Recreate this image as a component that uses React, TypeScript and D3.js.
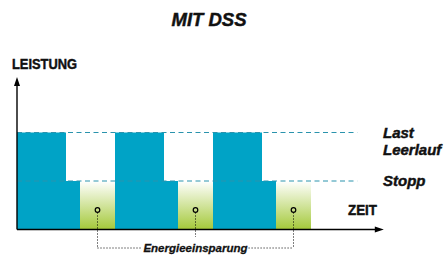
import { useEffect, useRef } from 'react'
import * as d3 from 'd3'

// power levels (0 = aus, 1 = Leerlauf/Stopp line, 2 = Last)
const durations = [7, 2, 5, 7, 2, 5, 7, 2, 5]
const levels = [2, 1, 0, 2, 1, 0, 2, 1, 0]
const savingLevel = 1
const lineLevels = [2, 1]
const lineLabels = [['Last', 'Leerlauf'], ['Stopp']]
const timeMax = 52.4
const lineEnd = 48.6

const W = 448
const H = 257

export default function App() {
  const svgRef = useRef<SVGSVGElement>(null)

  useEffect(() => {
    if (!svgRef.current) return
    const svg = d3.select(svgRef.current)
    svg.selectAll('*').remove()

    const x = d3.scaleLinear().domain([0, 7]).range([17, 66])
    const y = d3.scaleLinear().domain([0, 2]).range([229.5, 132.5])

    const font = "'Liberation Sans', Arial, sans-serif"
    const blue = '#00a3c6'
    const ink = '#111'

    const defs = svg.append('defs')
    const grad = defs.append('linearGradient').attr('id', 'sav').attr('x1', 0).attr('x2', 0).attr('y1', 0).attr('y2', 1)
    grad.append('stop').attr('offset', '0%').attr('stop-color', '#ffffff')
    grad.append('stop').attr('offset', '100%').attr('stop-color', '#a4c93a')

    // segments
    let t = 0
    const segs = durations.map((d, i) => {
      const s = { t0: t, t1: t + d, level: levels[i] }
      t += d
      return s
    })

    const g = svg.append('g')
    segs.forEach(s => {
      const lv = s.level > 0 ? s.level : savingLevel
      g.append('rect')
        .attr('x', x(s.t0)).attr('width', x(s.t1) - x(s.t0))
        .attr('y', y(lv)).attr('height', y(0) - y(lv))
        .attr('fill', s.level > 0 ? blue : 'url(#sav)')
    })

    // dashed level lines
    lineLevels.forEach(l => {
      g.append('line')
        .attr('x1', x(0)).attr('x2', x(lineEnd))
        .attr('y1', y(l)).attr('y2', y(l))
        .attr('stroke', '#2a93ad').attr('stroke-width', 1)
        .attr('stroke-dasharray', '5,3.5')
    })

    const txt = (xx: number, yy: number, s: string, size: number, italic: boolean, len?: number) => {
      const el = g.append('text').attr('x', xx).attr('y', yy)
        .attr('font-family', font).attr('font-weight', 'bold')
        .attr('font-style', italic ? 'italic' : 'normal')
        .attr('font-size', size).attr('fill', ink)
        .attr('stroke', ink).attr('stroke-width', 0.45)
        .text(s)
      if (len) el.attr('textLength', len).attr('lengthAdjust', 'spacingAndGlyphs')
      return el
    }

    // labels on right
    lineLabels.forEach((labs, i) => {
      labs.forEach((lab, j) => {
        txt(383, y(lineLevels[i]) + 5 + j * 17, lab, 15, true)
      })
    })

    // axes
    g.append('line').attr('x1', x(0)).attr('x2', x(0)).attr('y1', 84).attr('y2', y(0))
      .attr('stroke', '#000').attr('stroke-width', 1.4)
    g.append('path').attr('d', `M${x(0)},77 L${x(0) - 3},86 L${x(0) + 3},86 Z`).attr('fill', '#000')
    g.append('line').attr('x1', x(0)).attr('x2', x(timeMax) - 6).attr('y1', y(0)).attr('y2', y(0))
      .attr('stroke', '#000').attr('stroke-width', 1.4)
    g.append('path').attr('d', `M${x(timeMax)},${y(0)} L${x(timeMax) - 9},${y(0) - 3} L${x(timeMax) - 9},${y(0) + 3} Z`).attr('fill', '#000')

    txt(12, 69, 'LEISTUNG', 15, false, 65)
    txt(348, 215, 'ZEIT', 15, false, 29)

    // title
    txt(209, 26, 'MIT DSS', 18.5, true).attr('text-anchor', 'middle')

    // energy saving markers
    const saves = segs.filter(s => s.level === 0)
    const cx = saves.map(s => x((s.t0 + s.t1) / 2))
    const cy = 210
    const by = 248
    const mid = Math.floor(cx.length / 2)
    cx.forEach((c, i) => {
      g.append('line').attr('x1', c).attr('x2', c).attr('y1', cy + 2.5)
        .attr('y2', i === mid ? 237 : by)
        .attr('stroke', '#000').attr('stroke-width', 1).attr('stroke-dasharray', '1,2')
      g.append('circle').attr('cx', c).attr('cy', cy).attr('r', 2.3)
        .attr('fill', 'none').attr('stroke', '#000').attr('stroke-width', 1.2)
    })
    const label = txt(cx[mid], by + 4, 'Energieeinsparung', 11.5, true)
      .attr('text-anchor', 'middle').attr('stroke-width', 0.3)
    const bb = (label.node() as SVGTextElement).getBBox()
    g.append('line').attr('x1', cx[0]).attr('x2', bb.x - 1).attr('y1', by).attr('y2', by)
      .attr('stroke', '#000').attr('stroke-dasharray', '1,2')
    g.append('line').attr('x1', bb.x + bb.width + 1).attr('x2', cx[cx.length - 1]).attr('y1', by).attr('y2', by)
      .attr('stroke', '#000').attr('stroke-dasharray', '1,2')
  }, [])

  return (
    <svg ref={svgRef} width={W} height={H}
      style={{ position: 'absolute', left: 0, top: 0, background: '#fff' }} />
  )
}
